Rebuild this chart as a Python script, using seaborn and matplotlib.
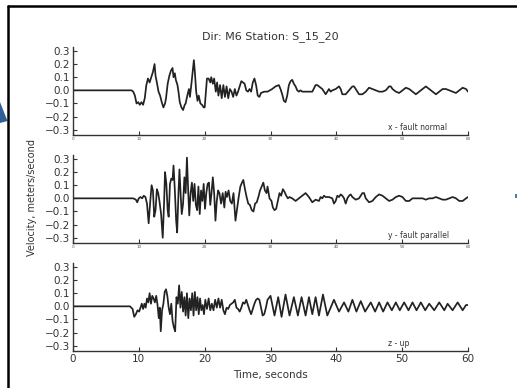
import matplotlib
matplotlib.use("Agg")
import matplotlib.pyplot as plt
import seaborn as sns
import pandas as pd
from matplotlib.patches import Polygon, Rectangle
from matplotlib.lines import Line2D

sns.set_style("white")
plt.rcParams['font.family'] = ['DejaVu Sans']

title = "Dir: M6 Station: S_15_20"
component_labels = ["x - fault normal", "y - fault parallel", "z - up"]
x_label = "Time, seconds"
y_label = "Velocity, meters/second"
x_ticks = [0, 10, 20, 30, 40, 50, 60]
y_ticks = [-0.3, -0.2, -0.1, 0.0, 0.1, 0.2, 0.3]

# --- x - fault normal ---
t_x = [0, 8.0, 8.9, 9.15, 9.40, 9.65, 9.90, 10.15, 10.40, 10.65, 10.90, 11.14, 11.39, 11.64, 11.89,
       12.14, 12.39, 12.54, 12.74, 12.99, 13.23, 13.48, 13.73, 13.98, 14.13, 14.38, 14.63, 14.88,
       15.12, 15.27, 15.47, 15.62, 15.87, 16.02, 16.22, 16.47, 16.72, 16.97, 17.11, 17.36, 17.61,
       17.76, 18.01, 18.21, 18.36, 18.51, 18.71, 18.91, 19.10, 19.35, 19.60, 19.85, 20.00, 20.20,
       20.35, 20.60, 20.85, 21.00, 21.24, 21.44, 21.69, 21.89, 22.09, 22.34, 22.59, 22.84, 23.08,
       23.33, 23.58, 23.83, 24.08, 24.33, 24.58, 24.83, 25.07, 25.32, 25.57, 25.82, 26.07, 26.32,
       26.57, 26.82, 27.06, 27.31, 27.56, 27.81, 28.06, 28.31, 28.56, 29.05, 29.55,
       30.25, 30.76, 31.27, 31.52, 31.78, 32.03, 32.28, 32.54, 32.79, 33.05, 33.30, 33.55, 33.81,
       34.06, 34.31, 34.57, 34.82, 35.33, 35.84, 36.35, 36.85, 37.11, 37.36, 37.87, 38.38, 38.63,
       38.88, 39.14, 39.39, 39.90, 40.41, 40.66, 40.91, 41.42, 41.93, 42.44, 42.69, 42.94, 43.45,
       43.96, 44.47, 44.97, 45.48, 45.99, 46.50, 47.01, 47.51, 48.02, 48.27, 48.53, 49.04, 49.54,
       50.05, 50.56, 51.07, 51.57, 52.08, 52.59, 53.10, 53.60, 54.11, 54.62, 55.13, 55.63, 56.14,
       56.65, 57.16, 57.66, 58.17, 58.68, 59.19, 59.70, 60.0]
v_x = [0, 0, 0, -0.01, -0.04, -0.10, -0.09, -0.11, -0.09, -0.11, -0.06, 0.04, 0.09, 0.06, 0.10,
       0.14, 0.20, 0.11, 0.06, -0.01, -0.04, -0.09, -0.13, -0.10, -0.06, 0.05, 0.11, 0.15,
       0.17, 0.10, 0.13, 0.08, 0.04, -0.01, -0.09, -0.13, -0.15, -0.11, -0.10, -0.04, 0.01,
       -0.05, 0.06, 0.16, 0.23, 0.14, -0.01, -0.08, -0.04, -0.10, -0.11, -0.13, -0.13, -0.01,
       0.09, 0.09, 0.06, 0.10, 0.05, 0.09, -0.01, 0.06, -0.04, 0.04, -0.06, 0.04, -0.05,
       0.03, -0.06, 0.01, -0.01, -0.05, 0.01, -0.04, -0.01, 0.03, 0.07, 0.06, 0.05, 0.00,
       -0.01, 0.01, -0.01, 0.06, 0.09, 0.04, -0.04, -0.05, -0.02, -0.01, -0.01,
       0.01, 0.03, 0.04, 0.01, -0.03, -0.08, -0.09, -0.04, 0.04, 0.07, 0.08, 0.05, 0.03,
       0.00, -0.01, 0.00, -0.01, -0.01, -0.01, -0.01, 0.04, 0.04, 0.03, 0.01, -0.03, -0.01,
       0.01, -0.01, 0.00, 0.01, 0.03, 0.01, -0.03, -0.03, 0.00, 0.03, 0.03, 0.01, -0.03,
       -0.03, -0.01, 0.02, 0.01, 0.00, -0.01, -0.01, 0.00, 0.03, 0.03, 0.01, -0.01, -0.02,
       0.00, 0.02, 0.01, -0.01, -0.03, -0.01, 0.01, 0.03, 0.01, -0.01, -0.03, -0.01, 0.01,
       0.01, 0.00, -0.01, -0.02, 0.00, 0.02, 0.01, -0.01]

# --- y - fault parallel ---
t_y = [0, 9.15, 9.55, 9.75, 10.0, 10.25, 10.50, 10.75, 11.00, 11.24, 11.49, 11.74, 11.94, 12.14,
       12.34, 12.54, 12.74, 12.94, 13.13, 13.38, 13.63, 13.83, 13.98, 14.18, 14.38, 14.53, 14.73,
       14.93, 15.12, 15.27, 15.47, 15.67, 15.82, 16.02, 16.17, 16.37, 16.52, 16.72, 16.92, 17.11,
       17.31, 17.51, 17.66, 17.86, 18.06, 18.26, 18.46, 18.66, 18.86, 19.05, 19.25, 19.45, 19.65,
       19.85, 20.05, 20.25, 20.45, 20.65, 20.85, 21.04, 21.24, 21.44, 21.64, 21.84, 22.04, 22.24,
       22.49, 22.74, 22.99, 23.18, 23.38, 23.63, 23.88, 24.13, 24.38, 24.68, 24.93, 25.17, 25.42,
       25.67, 25.87, 26.12, 26.37, 26.62, 26.87, 27.16, 27.41, 27.66, 27.91, 28.16, 28.41, 28.66,
       28.91, 29.15, 29.40, 29.55,
       29.85, 30.15, 30.36, 30.61, 30.86, 31.12, 31.37, 31.62, 31.88, 32.13, 32.39, 32.64, 32.89,
       33.30, 33.81, 34.31, 34.82, 35.33, 35.84, 36.35, 36.85, 37.36, 37.61, 37.87, 38.12, 38.38,
       38.88, 39.39, 39.64, 39.90, 40.15, 40.41, 40.66, 40.91, 41.17, 41.42, 41.68, 41.93, 42.18,
       42.44, 42.69, 42.94, 43.45, 43.96, 44.21, 44.47, 44.97, 45.48, 45.99, 46.50, 47.01, 47.51,
       48.02, 48.53, 49.04, 49.54, 50.05, 50.56, 51.07, 51.57, 52.08, 53.10, 53.60, 54.11, 54.62,
       55.13, 55.63, 56.14, 56.65, 57.16, 57.66, 58.17, 58.68, 59.19, 59.70, 60.0]
v_y = [0, 0, -0.01, -0.03, 0.00, 0.01, 0.00, 0.02, 0.01, -0.04, -0.19, -0.02, 0.10, 0.06,
       -0.14, -0.09, 0.07, 0.04, -0.02, -0.12, -0.30, -0.04, 0.20, 0.11, -0.09, -0.14, 0.11,
       0.15, 0.14, 0.25, 0.06, -0.17, -0.26, 0.04, 0.22, 0.01, -0.12, -0.04, 0.16, 0.04,
       0.31, 0.04, -0.13, 0.04, 0.12, -0.02, 0.11, -0.05, -0.09, 0.09, -0.12, 0.06, -0.02,
       0.11, -0.08, 0.04, 0.11, 0.12, -0.05, 0.04, 0.16, 0.04, -0.17, -0.02, 0.06, 0.04,
       -0.04, 0.04, -0.07, 0.05, 0.01, 0.06, -0.02, -0.04, 0.04, -0.17, -0.08, 0.01, 0.09,
       0.12, 0.14, 0.07, 0.01, -0.04, -0.05, -0.09, -0.10, -0.04, -0.03, 0.01, 0.06, 0.09,
       0.12, 0.06, 0.04, 0.09,
       0.00, -0.02, -0.07, -0.09, -0.08, -0.02, 0.04, 0.02, 0.07, 0.05, 0.02, 0.00, 0.01,
       0.00, -0.02, 0.00, 0.02, 0.04, 0.01, -0.03, -0.01, -0.02, 0.01, 0.00, 0.02, 0.01,
       0.01, 0.00, -0.04, -0.02, 0.02, 0.01, 0.03, 0.02, 0.00, -0.04, 0.00, 0.02, 0.03,
       0.01, 0.00, -0.01, 0.00, 0.04, 0.04, 0.00, -0.03, -0.02, 0.01, 0.03, 0.02, 0.00,
       -0.02, -0.01, 0.01, 0.02, 0.01, -0.02, -0.02, 0.00, 0.00, 0.00, -0.01, 0.00, 0.00,
       0.01, 0.00, -0.01, -0.01, 0.00, 0.01, 0.00, -0.02, -0.02, 0.00, 0.01]

# --- z - up ---
t_z = [0, 8.66, 9.05, 9.30, 9.55, 9.80, 10.05, 10.25, 10.45, 10.65, 10.85, 11.04, 11.24, 11.44,
       11.64, 11.84, 12.04, 12.24, 12.44, 12.64, 12.84, 13.03, 13.18, 13.33, 13.53, 13.73, 13.93,
       14.13, 14.33, 14.53, 14.73, 14.93, 15.12, 15.32, 15.52, 15.72, 15.92, 16.12, 16.32, 16.52,
       16.72, 16.92, 17.11, 17.31, 17.51, 17.71, 17.91, 18.11, 18.31, 18.51, 18.71, 18.91, 19.10,
       19.30, 19.50, 19.70, 19.90, 20.10, 20.35, 20.60, 20.85, 21.09, 21.34, 21.59, 21.84, 22.09,
       22.34, 22.59, 22.84, 23.08, 23.33, 23.58, 23.83, 24.08, 24.33, 24.58, 24.83, 25.07, 25.32,
       25.57, 25.82, 26.07, 26.32, 26.57, 26.82, 27.06, 27.31, 27.56, 27.81, 28.06, 28.31, 28.56,
       28.81, 29.05, 29.30, 29.55,
       30.00, 30.61, 31.17, 31.68, 32.28, 32.89, 33.55, 34.16, 34.72, 35.33, 35.84, 36.35, 36.85,
       37.36, 37.97, 38.63, 39.64, 40.41, 41.17, 41.83, 42.44, 43.05, 43.71, 44.37, 45.23, 45.89,
       46.50, 47.11, 47.77, 48.43, 49.04, 49.64, 50.30, 50.96, 51.57, 52.18, 52.84, 53.50, 54.11,
       54.87, 55.63, 56.40, 56.90, 57.66, 58.43, 59.19, 59.70, 60.0]
v_z = [0, 0, -0.02, -0.08, -0.06, -0.03, -0.04, -0.01, 0.02, -0.02, 0.02, -0.01, 0.06, 0.03,
       0.10, 0.02, 0.08, 0.06, 0.03, 0.08, 0.01, -0.09, -0.01, -0.19, -0.03, 0.02, 0.11,
       0.13, 0.08, -0.01, -0.06, 0.02, -0.11, -0.16, -0.19, 0.07, 0.02, 0.16, -0.01, 0.11,
       -0.04, 0.07, -0.07, 0.10, -0.09, 0.06, -0.03, 0.10, -0.07, 0.11, -0.03, 0.07, -0.06,
       0.06, -0.03, 0.01, -0.06, 0.05, -0.02, 0.06, -0.03, 0.02, -0.03, 0.05, -0.01, 0.06,
       -0.01, 0.05, -0.03, -0.06, -0.01, -0.02, 0.01, 0.02, 0.03, 0.05, -0.01, -0.02, -0.04,
       -0.01, 0.03, 0.02, 0.05, 0.01, -0.03, -0.06, -0.02, 0.02, 0.05, 0.06, 0.05, -0.01,
       -0.07, -0.06, -0.01, 0.05,
       0.08, -0.07, 0.07, -0.08, 0.09, -0.07, 0.07, -0.07, 0.07, -0.07, 0.07, -0.06, 0.07,
       -0.07, 0.09, -0.07, 0.05, -0.04, 0.03, -0.04, 0.05, -0.04, 0.04, -0.04, 0.03, -0.04,
       0.03, -0.04, 0.03, -0.03, 0.03, -0.03, 0.03, -0.03, 0.03, -0.03, 0.03, -0.03, 0.02,
       -0.03, 0.03, -0.03, 0.02, -0.03, 0.03, -0.03, 0.01, 0.01]

series = [(t_x, v_x), (t_y, v_y), (t_z, v_z)]

W, H = 517, 388
fig = plt.figure(figsize=(W / 100, H / 100), dpi=100)

left = 73 / W
width = (468 - 73) / W
bottoms_px = [135, 243, 351]
height = 88 / H

line_color = "#222222"
for i, ((t, v), lab) in enumerate(zip(series, component_labels)):
    ax = fig.add_axes([left, 1 - bottoms_px[i] / H, width, height])
    df = pd.DataFrame({"t": t, "v": v})
    sns.lineplot(data=df, x="t", y="v", ax=ax, color=line_color, lw=1.25,
                 estimator=None, sort=False)
    ax.set_xlim(0, 60)
    ax.set_ylim(-0.34, 0.33)
    ax.set_xticks(x_ticks)
    ax.set_yticks(y_ticks)
    ax.set_yticklabels([f"{y:.1f}".replace("-", "\u2212") for y in y_ticks],
                       fontsize=7.5, color="#333333")
    for s in ["top", "right"]:
        ax.spines[s].set_visible(False)
    for s in ["left", "bottom"]:
        ax.spines[s].set_color("#333333")
        ax.spines[s].set_linewidth(1.0)
    ax.tick_params(axis="both", direction="in", length=3, width=0.8,
                   color="#333333", left=True, bottom=True, pad=2)
    if i < 2:
        ax.set_xticklabels([str(x) for x in x_ticks], fontsize=3, color="#555555")
        ax.tick_params(axis="x", pad=1.5)
    else:
        ax.set_xticklabels([str(x) for x in x_ticks], fontsize=7.5, color="#333333")
    ax.set_xlabel("")
    ax.set_ylabel("")
    ax.text(0.797, 0.08, lab, transform=ax.transAxes, fontsize=5.5,
            color="#333333", ha="left", va="center")
    ax.set_facecolor("none")

fig.text(270 / W, 1 - 37 / H, title, fontsize=8, color="#333333",
         ha="center", va="center")
fig.text(270 / W, 1 - 375 / H, x_label, fontsize=7.5, color="#333333",
         ha="center", va="center")
fig.text(32 / W, 1 - 198 / H, y_label, fontsize=7, color="#333333",
         ha="center", va="center", rotation=90)

# slide frame and decorations
fig.add_artist(Line2D([8 / W, 8 / W], [0, 1 - 6 / H], transform=fig.transFigure,
                      color="black", lw=1.8))
fig.add_artist(Line2D([8 / W, 1], [1 - 6 / H, 1 - 6 / H], transform=fig.transFigure,
                      color="black", lw=1.8))
fig.add_artist(Polygon([[0, 1 - 102 / H], [7.5 / W, 1 - 121 / H], [0, 1 - 123 / H]],
                       closed=True, transform=fig.transFigure, color="#2f5f98", lw=0))
fig.add_artist(Rectangle((515 / W, 1 - 198 / H), 2 / W, 4 / H,
                         transform=fig.transFigure, color="#4a78b0", lw=0))

fig.savefig("out.png", dpi=100)
